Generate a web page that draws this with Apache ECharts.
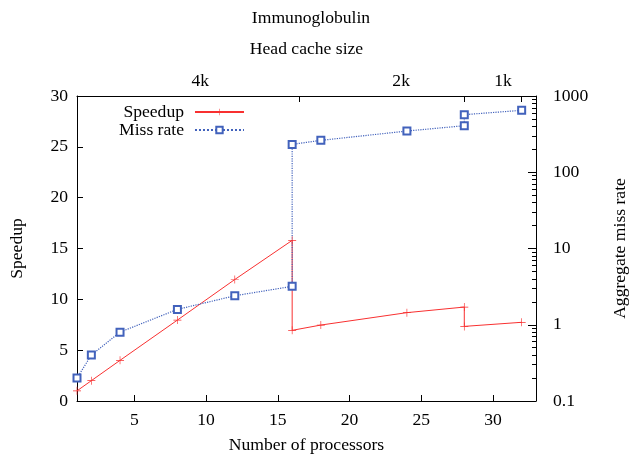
<!DOCTYPE html>
<html>
<head>
<meta charset="utf-8">
<script src="https://cdn.jsdelivr.net/npm/echarts@6/dist/echarts.min.js"></script>
<style>
  html, body { margin: 0; padding: 0; background: #fff; }
  #chart { width: 629px; height: 454px; }
</style>
</head>
<body>
<div id="chart"></div>
<script>
// processors vs speedup (left axis)
const speedupX = [1, 2, 4, 8, 12, 16, 16, 18, 24, 28, 28, 32];
const speedupY = [1, 2, 4, 7.96, 11.95, 15.8, 6.95, 7.47, 8.69, 9.24, 7.34, 7.74];

// processors vs aggregate miss rate (right log axis)
const missX = [1, 2, 4, 8, 12, 16, 16, 18, 24, 28, 28, 32];
const missY = [0.2, 0.4, 0.8, 1.59, 2.4, 3.19, 232, 262, 347, 408, 569, 649];

// ticks and labels
const xTicks = [5, 10, 15, 20, 25, 30];
const cacheTickPos = [16.5, 28, 32];
const cacheLabelPos = [9.6, 23.6, 30.7];
const cacheLabels = ['4k', '2k', '1k'];
const logMinorTicks = [0.2, 0.3, 0.4, 0.5, 0.6, 0.7, 0.8, 0.9,
  2, 3, 4, 5, 6, 7, 8, 9, 20, 30, 40, 50, 60, 70, 80, 90,
  200, 300, 400, 500, 600, 700, 800, 900];

const font = 'Liberation Serif';
const txt = { fontFamily: font, fontSize: 17.6, color: '#000' };
const plusPath = 'path://M4.6,0H5.4V4.6H10V5.4H5.4V10H4.6V5.4H0V4.6H4.6Z';

const chart = echarts.init(document.getElementById('chart'));
chart.setOption({
  animation: false,
  textStyle: { fontFamily: font },
  title: {
    text: 'Immunoglobulin',
    left: 306, top: 4, textAlign: 'center',
    textStyle: { fontFamily: font, fontSize: 17.6, fontWeight: 'normal', color: '#000' }
  },
  legend: {
    orient: 'vertical',
    align: 'right',
    left: 119, top: 103,
    padding: 0,
    itemWidth: 49, itemHeight: 8, itemGap: 0,
    textStyle: { fontFamily: font, fontSize: 17.6, lineHeight: 18, color: '#000', padding: [0, 6, 0, 0] },
    data: ['Speedup', 'Miss rate']
  },
  grid: { left: 77, right: 93, top: 96, bottom: 53, containLabel: false, outerBoundsMode: 'none' },
  xAxis: [
    {
      type: 'value', position: 'bottom', min: 1, max: 33,
      name: 'Number of processors', nameLocation: 'middle', nameGap: 35,
      nameTextStyle: txt,
      axisLine: { onZero: false, lineStyle: { color: '#000', width: 1 } },
      axisTick: { inside: true, length: 6, customValues: xTicks, lineStyle: { color: '#000' } },
      axisLabel: { customValues: xTicks, margin: 10, ...txt },
      splitLine: { show: false }
    },
    {
      type: 'value', position: 'top', min: 1, max: 33,
      name: 'Head cache size', nameLocation: 'middle', nameGap: 38,
      nameTextStyle: txt,
      axisLine: { onZero: false, lineStyle: { color: '#000', width: 1 } },
      axisTick: { inside: true, length: 6, customValues: cacheTickPos, lineStyle: { color: '#000' } },
      axisLabel: {
        customValues: cacheLabelPos, margin: 6, ...txt,
        formatter: (v) => cacheLabels[cacheLabelPos.indexOf(v)] || ''
      },
      splitLine: { show: false }
    }
  ],
  yAxis: [
    {
      type: 'value', position: 'left', min: 0, max: 30, interval: 5,
      name: 'Speedup', nameLocation: 'middle', nameGap: 51, nameRotate: 90,
      nameTextStyle: txt,
      axisLine: { show: true, onZero: false, lineStyle: { color: '#000', width: 1 } },
      axisTick: { show: true, inside: true, length: 6, lineStyle: { color: '#000' } },
      axisLabel: { margin: 9, ...txt },
      splitLine: { show: false }
    },
    {
      type: 'log', logBase: 10, position: 'right', min: 0.1, max: 1000,
      name: 'Aggregate miss rate', nameLocation: 'middle', nameGap: 75, nameRotate: 90,
      nameTextStyle: txt,
      axisLine: { show: true, lineStyle: { color: '#000', width: 1 } },
      axisTick: { show: true, inside: true, length: 8, lineStyle: { color: '#000', width: 1 } },
      axisLabel: { margin: 17, ...txt, formatter: (v) => String(v) },
      splitLine: { show: false }
    },
    {
      // minor ticks of the log axis, on a linear log10 scale
      type: 'value', position: 'right', min: -1, max: 3,
      axisLine: { show: false },
      axisTick: {
        show: true, inside: true, length: 4,
        customValues: logMinorTicks.map((v) => Math.log10(v)),
        lineStyle: { color: '#000', width: 1 }
      },
      axisLabel: { show: false },
      splitLine: { show: false }
    }
  ],
  series: [
    {
      name: 'Speedup', type: 'line', xAxisIndex: 0, yAxisIndex: 0,
      data: speedupX.map((x, i) => [x, speedupY[i]]),
      symbol: plusPath, symbolSize: 8,
      lineStyle: { color: '#f83030', width: 1 },
      itemStyle: { color: '#f83030' }
    },
    {
      name: 'Miss rate', type: 'line', xAxisIndex: 0, yAxisIndex: 1,
      data: missX.map((x, i) => [x, missY[i]]),
      symbol: 'emptyRect', symbolSize: 7,
      lineStyle: { color: '#4262bc', width: 1.2, type: 'dotted' },
      itemStyle: { color: '#4262bc', borderWidth: 1 }
    }
  ]
});
</script>
</body>
</html>
